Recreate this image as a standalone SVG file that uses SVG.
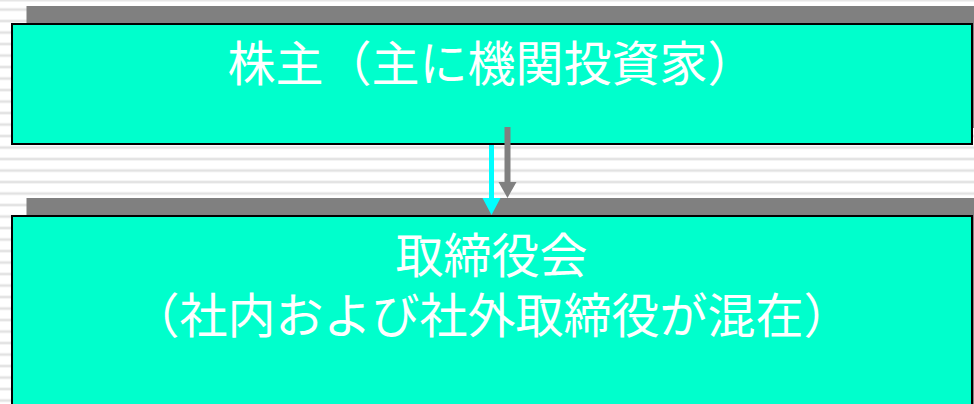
<svg xmlns="http://www.w3.org/2000/svg" width="974" height="404" viewBox="0 0 974 404">
  <defs>
    <pattern id="stripes" x="0" y="0" width="974" height="11.5" patternUnits="userSpaceOnUse">
      <rect x="0" y="0" width="974" height="11.5" fill="#ffffff"/>
      <rect x="0" y="8.5" width="974" height="2" fill="#e2e2e2"/>
      <rect x="0" y="7.8" width="974" height="0.7" fill="#f0f0f0"/>
      <rect x="0" y="10.5" width="974" height="0.7" fill="#f0f0f0"/>
    </pattern>
  </defs>
  <style>
    .shadow { fill: #808080; }
    .box { fill: #00ffcc; stroke: #000000; stroke-width: 2; }
    .label { fill: #ffffff; font-family: "Noto Sans CJK JP", "Noto Sans", sans-serif; font-size: 48px; text-anchor: middle; }
    .arrow { fill: #00ffff; }
    .arrow-shadow { fill: #808080; }
  </style>
  <rect x="0" y="0" width="974" height="404" fill="url(#stripes)"/>
  <rect x="0" y="0" width="974" height="1.5" fill="#e6e6e6"/>

  <g id="node-shareholders">
    <rect class="shadow" x="26.5" y="6" width="960" height="122"/>
    <rect class="box" x="12" y="24" width="960" height="120"/>
    <text class="label" x="491.5" y="81">株主（主に機関投資家）</text>
  </g>

  <g id="node-board">
    <rect class="shadow" x="26.5" y="198" width="960" height="220"/>
    <rect class="box" x="12" y="216" width="960" height="200"/>
    <text class="label" x="491.5" y="273"><tspan x="491.5" y="273">取締役会</tspan><tspan x="491.5" y="333">（社内および社外取締役が混在）</tspan></text>
  </g>

  <g id="connectors">
    <path class="arrow-shadow" d="M504.5,127 H510.5 V182 H516.5 L507.5,198 L498.5,182 H504.5 Z"/>
    <path class="arrow" d="M489,145 H494 V198 H500.5 L491.5,215 L482.5,198 H489 Z"/>
  </g>
</svg>
